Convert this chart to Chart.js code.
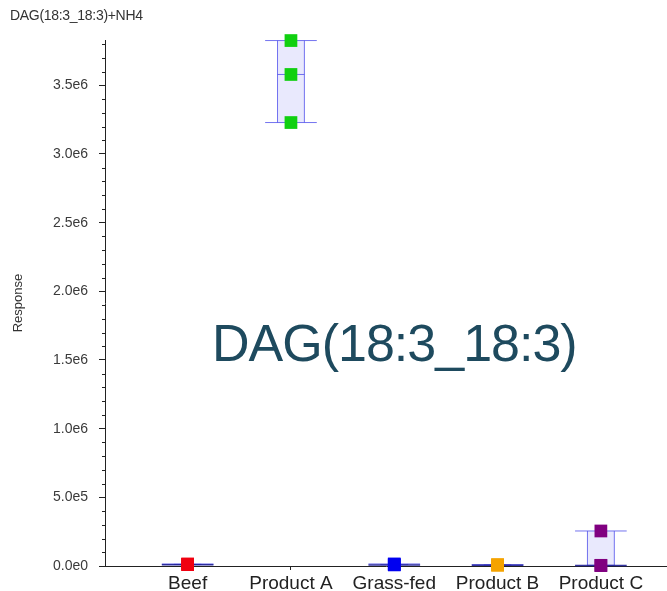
<!DOCTYPE html>
<html>
<head>
<meta charset="utf-8">
<script src="https://cdn.jsdelivr.net/npm/chart.js@4.4.1/dist/chart.umd.min.js"></script>
<style>
  html, body { margin: 0; padding: 0; background: #fff; }
  #wrap { position: relative; width: 667px; height: 591px; }
  #title { position: absolute; left: 10px; top: 7px; font: 14px "Liberation Sans", Arial, sans-serif; color: #333; letter-spacing: -0.3px; }
  #big { position: absolute; left: 212px; top: 317px; font: 52px/52px "Liberation Sans", Arial, sans-serif; color: #1e4a5e; letter-spacing: -1px; white-space: nowrap; }
</style>
</head>
<body>
<div id="wrap">
  <canvas id="chart" width="667" height="591"></canvas>
  <div id="title">DAG(18:3_18:3)+NH4</div>
  <div id="big">DAG(18:3_18:3)</div>
</div>
<script>
const categories = ['Beef', 'Product A', 'Grass-fed', 'Product B', 'Product C'];
const beef = [15000, 12000, 10000];
const productA = [3826000, 3579000, 3229000];
const grassFed = [15000, 10000, 8000];
const productB = [10000, 8000, 5000];
const productC = [255000, 5000, 3000];
const seriesValues = [beef, productA, grassFed, productB, productC];
const colors = ['#f00010', '#10d010', '#0000f0', '#f5a300', '#800080'];
const yTicks = [0, 500000, 1000000, 1500000, 2000000, 2500000, 3000000, 3500000];

const datasets = categories.map((c, i) => ({
    label: c,
    data: seriesValues[i].map(v => ({ x: i + 1, y: v })),
    backgroundColor: colors[i],
    borderWidth: 0,
    pointStyle: 'rect',
    pointRadius: 9,
    clip: false
}));

// box + whiskers for each category, and minor ticks on the y axis
const boxPlugin = {
    id: 'boxes',
    beforeDatasetsDraw(chart) {
        const ctx = chart.ctx;
        const xs = chart.scales.x, ys = chart.scales.y;
        ctx.save();
        seriesValues.forEach((vals, i) => {
            const s = vals.slice().sort((a, b) => a - b);
            const lo = s[0], hi = s[s.length - 1], med = s[Math.floor(s.length / 2)];
            const bl = xs.getPixelForValue(i + 1 - 0.13), br = xs.getPixelForValue(i + 1 + 0.13);
            const wl = xs.getPixelForValue(i + 1 - 0.25), wr = xs.getPixelForValue(i + 1 + 0.25);
            const yt = ys.getPixelForValue(hi), yb = ys.getPixelForValue(lo), ym = ys.getPixelForValue(med);
            ctx.fillStyle = 'rgba(228,228,252,0.8)';
            ctx.fillRect(bl, yt, br - bl, yb - yt);
            ctx.strokeStyle = 'rgba(80,80,235,0.8)';
            ctx.lineWidth = 1;
            ctx.beginPath();
            ctx.moveTo(bl, yt); ctx.lineTo(bl, yb);
            ctx.moveTo(br, yt); ctx.lineTo(br, yb);
            ctx.moveTo(wl, yt); ctx.lineTo(wr, yt);
            ctx.moveTo(bl, ym); ctx.lineTo(br, ym);
            ctx.stroke();
            // lower whisker: reads darker where it lies on the baseline
            const onBase = ys.bottom - yb < 4;
            ctx.strokeStyle = onBase ? 'rgba(30,30,150,0.9)' : 'rgba(80,80,235,0.8)';
            ctx.lineWidth = onBase ? 1.5 : 1;
            ctx.beginPath();
            ctx.moveTo(wl, yb); ctx.lineTo(wr, yb);
            ctx.stroke();
        });
        ctx.restore();
    },
    afterDraw(chart) {
        const ctx = chart.ctx;
        const ys = chart.scales.y;
        ctx.save();
        ctx.strokeStyle = '#222';
        ctx.lineWidth = 1;
        ctx.beginPath();
        for (let v = 100000; v < ys.max; v += 100000) {
            if (v % 500000 === 0) continue;
            const y = Math.round(ys.getPixelForValue(v)) + 0.5;
            ctx.moveTo(ys.right - 3, y);
            ctx.lineTo(ys.right, y);
        }
        ctx.stroke();
        ctx.restore();
    }
};

new Chart(document.getElementById('chart'), {
    type: 'scatter',
    data: { datasets },
    plugins: [boxPlugin],
    options: {
        responsive: false,
        animation: false,
        layout: { autoPadding: false, padding: { top: 40, left: 0, right: 0, bottom: 0 } },
        plugins: { legend: { display: false }, tooltip: { enabled: false } },
        scales: {
            x: {
                type: 'linear',
                min: 0.2,
                max: 5.64,
                afterFit: s => { s.height = 25; s.paddingLeft = 0; s.paddingRight = 0; },
                afterBuildTicks: s => { s.ticks = categories.map((c, i) => ({ value: i + 1 })); },
                ticks: {
                    callback: v => categories[v - 1],
                    font: { family: 'Liberation Sans', size: 19 },
                    color: '#222',
                    padding: 2,
                    maxRotation: 0,
                    autoSkip: false
                },
                grid: { drawOnChartArea: false, tickLength: 4, tickColor: '#222' },
                border: { color: '#222', width: 1 }
            },
            y: {
                min: 0,
                max: 3830000,
                afterFit: s => { s.width = 105; },
                afterBuildTicks: s => { s.ticks = yTicks.map(v => ({ value: v })); },
                ticks: {
                    callback: v => v.toExponential(1).replace('+', ''),
                    font: { family: 'Liberation Sans', size: 14 },
                    color: '#3a3a3a',
                    padding: 11
                },
                title: {
                    display: true,
                    text: 'Response',
                    font: { family: 'Liberation Sans', size: 13 },
                    color: '#333',
                    padding: { top: 11, bottom: 0 }
                },
                grid: { drawOnChartArea: false, tickLength: 6, tickColor: '#222' },
                border: { color: '#222', width: 1 }
            }
        }
    }
});
</script>
</body>
</html>
